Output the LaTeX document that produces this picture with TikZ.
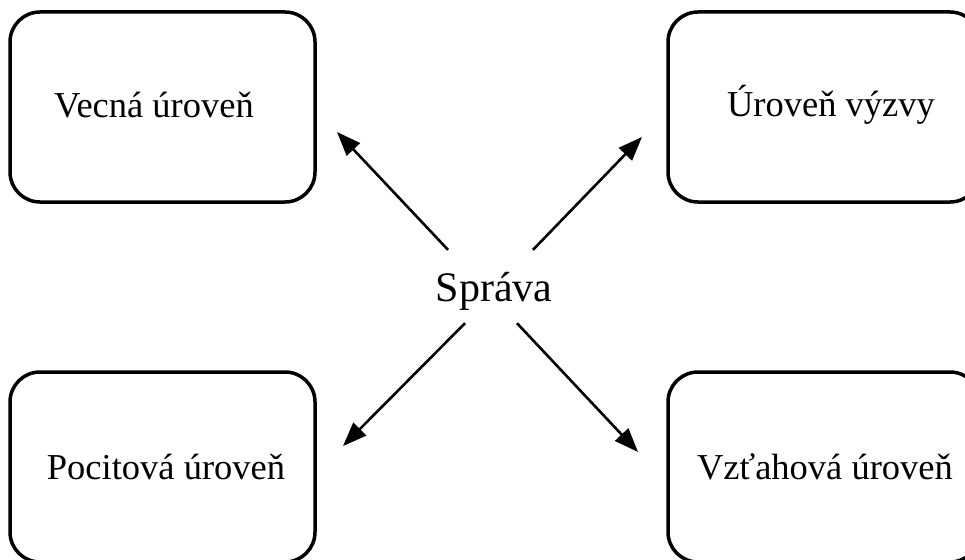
\documentclass[tikz,border=0pt]{standalone}
\usepackage{fontspec}
\setmainfont{Liberation Serif}
\usetikzlibrary{arrows.meta}
\begin{document}
\begin{tikzpicture}[x=1pt,y=-1pt,
  levelbox/.style={draw=black,line width=3.5pt,rounded corners=30pt,fill=none},
  levellabel/.style={font=\fontsize{36.5}{40}\selectfont,inner sep=0pt},
  conn/.style={line width=2.6pt,-{Triangle[length=24pt,width=18pt]}}]
\useasboundingbox (0,0) rectangle (965,559);
\clip (0,0) rectangle (965,559);
% boxes
\draw[levelbox] (10,12) rectangle (315,202);
\draw[levelbox] (668,12) rectangle (980,202);
\draw[levelbox] (10,372) rectangle (315,562);
\draw[levelbox] (668,372) rectangle (980,562);
% labels
\node[levellabel] (vecna) at (154,105) {Vecná úroveň};
\node[levellabel] (vyzva) at (831,105) {Úroveň výzvy};
\node[levellabel] (pocit) at (166,467) {Pocitová úroveň};
\node[levellabel] (vztah) at (825,467) {Vzťahová úroveň};
% centre
\node[font=\fontsize{42}{46}\selectfont,minimum width=162pt,minimum height=72pt,inner sep=0pt] (sprava) at (494,291) {Správa};
% arrow tips
\coordinate (t1) at (337,132);
\coordinate (t2) at (642,137);
\coordinate (t3) at (343,446);
\coordinate (t4) at (638,452);
\draw[conn] ([xshift=-46pt,yshift=5pt]sprava.north) -- (t1);
\draw[conn] ([xshift=39pt,yshift=5pt]sprava.north) -- (t2);
\draw[conn] ([xshift=-29pt,yshift=4pt]sprava.south) -- (t3);
\draw[conn] ([xshift=23pt,yshift=4pt]sprava.south) -- (t4);
\end{tikzpicture}
\end{document}
